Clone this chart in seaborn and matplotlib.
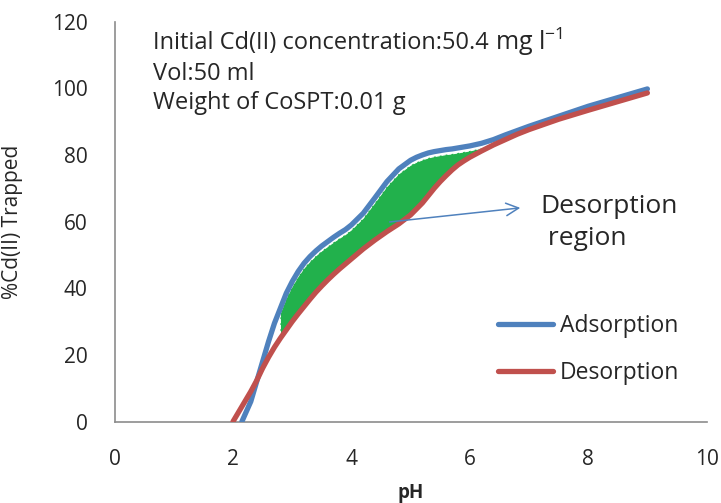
import numpy as np
import pandas as pd
import seaborn as sns
import matplotlib
matplotlib.use("Agg")
import matplotlib.pyplot as plt

# values
ph = [2.0, 2.15, 2.3, 2.4, 2.5, 2.6, 2.7, 2.8, 2.9, 3.0, 3.1, 3.2, 3.3, 3.4,
      3.5, 3.6, 3.7, 3.8, 3.9, 4.0, 4.2, 4.4, 4.6, 4.8, 5.0, 5.1, 5.2, 5.3,
      5.4, 5.5, 5.6, 5.7, 5.8, 5.9, 6.0, 6.2, 6.4, 6.6, 6.8, 7.0, 7.5, 8.0,
      8.5, 9.0]
adsorption = [np.nan, 0, 6, 12, 18, 24, 29.5, 34, 38.5, 42, 45, 47.5, 49.5,
              51.2, 52.7, 54, 55.3, 56.5, 57.6, 59, 62.5, 67.2, 72, 75.8, 78.4,
              79.3, 80, 80.6, 81, 81.3, 81.6, 81.8, 82.1, 82.4, 82.7, 83.5,
              84.6, 86, 87.3, 88.6, 91.6, 94.6, 97.2, 99.8]
desorption = [0, 4.5, 9, 12.3, 16, 19.3, 22.3, 25, 27.5, 30, 32.3, 34.5, 36.7,
              38.8, 40.7, 42.5, 44.2, 45.8, 47.3, 48.8, 51.8, 54.5, 57, 59.3,
              62, 63.8, 65.6, 67.8, 70, 72, 73.8, 75.5, 77, 78.2, 79.3, 81.2,
              83, 84.6, 86.2, 87.6, 90.7, 93.4, 96, 98.6]
series_names = ["Adsorption", "Desorption"]
series_colors = ["#4F81BD", "#C0504D"]
region_range = (2.8, 6.2)

info_first = "Initial Cd(II) concentration:50.4 "
info_unit = r"mg l$^{\mathregular{-1}}$"
info_lines = ["Vol:50 ml", "Weight of CoSPT:0.01 g"]

sns.set_style("white")
plt.rcParams["font.family"] = ["Open Sans", "DejaVu Sans"]
plt.rcParams["mathtext.fontset"] = "custom"
plt.rcParams["mathtext.rm"] = "Open Sans"

df = pd.DataFrame({"pH": ph * 2,
                   "value": adsorption + desorption,
                   "series": [series_names[0]] * len(ph) + [series_names[1]] * len(ph)})
df = df.dropna()

fig = plt.figure(figsize=(7.21, 5.03), dpi=100)
ax = fig.add_axes([0.159, 0.162, 0.821, 0.795])

ph_arr = np.array(ph)
ads_arr = np.array(adsorption)
des_arr = np.array(desorption)
mask = (ph_arr >= region_range[0]) & (ph_arr <= region_range[1])
ax.fill_between(ph_arr[mask], des_arr[mask], ads_arr[mask] - 1.5, color="#22B14C",
                edgecolor="white", linestyle="--", linewidth=0.8, zorder=1)

sns.lineplot(data=df, x="pH", y="value", hue="series", palette=series_colors,
             linewidth=3.8, ax=ax, zorder=3, sort=False)

text_color = "#262626"
ax.set_xlim(0, 10)
ax.set_ylim(0, 120)
ax.set_xticks(range(0, 11, 2))
ax.set_yticks(range(0, 121, 20))
ax.tick_params(axis="both", direction="out", length=6.5, width=1.2, color="#8c8c8c",
               labelsize=15, labelcolor=text_color, pad=13)
for side in ["top", "right"]:
    ax.spines[side].set_visible(False)
for side in ["left", "bottom"]:
    ax.spines[side].set_color("#8c8c8c")
    ax.spines[side].set_linewidth(1.2)

ax.set_xlabel("pH", fontsize=13.5, fontweight="bold", color=text_color)
ax.xaxis.set_label_coords(0.5, -0.153)
ax.set_ylabel("%Cd(II) Trapped", fontsize=15, color=text_color)
ax.yaxis.set_label_coords(-0.155, 0.5)

# info block in the upper left
t1 = ax.text(0.65, 110, info_first, fontsize=17, color=text_color,
             va="bottom", ha="left")
ax.annotate(info_unit, xy=(1, 0), xycoords=t1, xytext=(0, -2.5),
            textcoords="offset points", fontsize=18, color=text_color,
            va="bottom", ha="left")
for i, line in enumerate(info_lines):
    ax.text(0.65, 104.4 - i * 8.7, line, fontsize=17, color=text_color,
            va="center", ha="left")

ax.annotate("", xy=(6.9, 64.2), xytext=(4.6, 59.8),
            arrowprops=dict(arrowstyle="->,head_length=0.9,head_width=0.45",
                            color="#4F81BD", lw=1.1), zorder=4)
ax.text(7.2, 59.8, "Desorption\n region", fontsize=19, color=text_color,
        va="center", ha="left", linespacing=1.35)

leg = ax.legend(loc="center left", bbox_to_anchor=(0.613, 0.181), frameon=False,
                fontsize=16.5, handlelength=2.4, labelspacing=1.0, handletextpad=0.3)
for t in leg.get_texts():
    t.set_color(text_color)

fig.savefig("out.png", dpi=100)
